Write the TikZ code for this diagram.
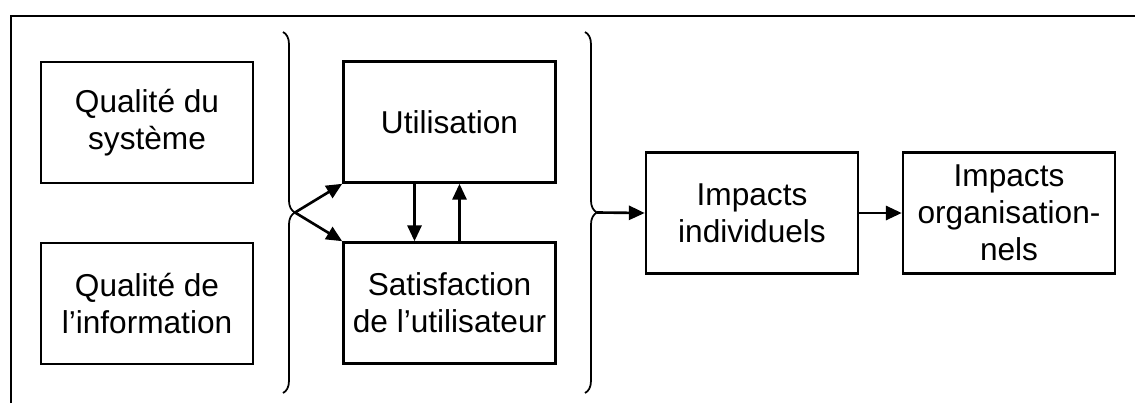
\documentclass[tikz,border=0pt]{standalone}
\usepackage{fontspec}
\setmainfont{Liberation Sans}
\usetikzlibrary{arrows.meta,decorations.pathreplacing}

\begin{document}
\begin{tikzpicture}[x=0.02cm,y=-0.02cm,
	box/.style = {draw,line width=1.5pt,align=center,inner sep=0,minimum width=4.24cm,minimum height=2.42cm,font=\fontsize{18}{21}\selectfont},
	arr/.style = {line width=1.5pt,-{Triangle[length=9pt,width=8pt]}},
	accol/.style = {line width=1pt,decorate,decoration={brace,amplitude=6.8pt}}]
	\useasboundingbox (0,0) rectangle (1135,403);
	\draw[line width=1.5pt] (11,403) -- (11,16) -- (1135,16); %cadre
	\node[box] (sys) at (147,122.5) {Qualité du\\système};
	\node[box] (info) at (147,303.5) {Qualité de\\l’information};
	\node[box] (util) at (449.5,122) {Utilisation};
	\node[box] (satis) at (449.5,303) {Satisfaction\\de l’utilisateur};
	\node[box] (indiv) at (752,213) {Impacts\\individuels};
	\node[box] (orga) at (1009,213) {Impacts\\organisation-\\nels};
	\draw[accol] (283,32) -- (283,393); %1
	\draw[accol] (585,32) -- (585,393); %2
	\coordinate (tipA) at (295,212.5);
	\coordinate (tipB) at (597,212.5);
	\draw[arr] (tipA) -- (util.south west);
	\draw[arr] (tipA) -- (satis.north west);
	\draw[arr] ([xshift=-0.7cm]util.south) -- ([xshift=-0.7cm]satis.north);
	\draw[arr] ([xshift=0.2cm]satis.north) -- ([xshift=0.2cm]util.south);
	\draw[arr] (tipB) -- (indiv.west);
	\draw[arr] (indiv) -- (orga);
\end{tikzpicture}
\end{document}
